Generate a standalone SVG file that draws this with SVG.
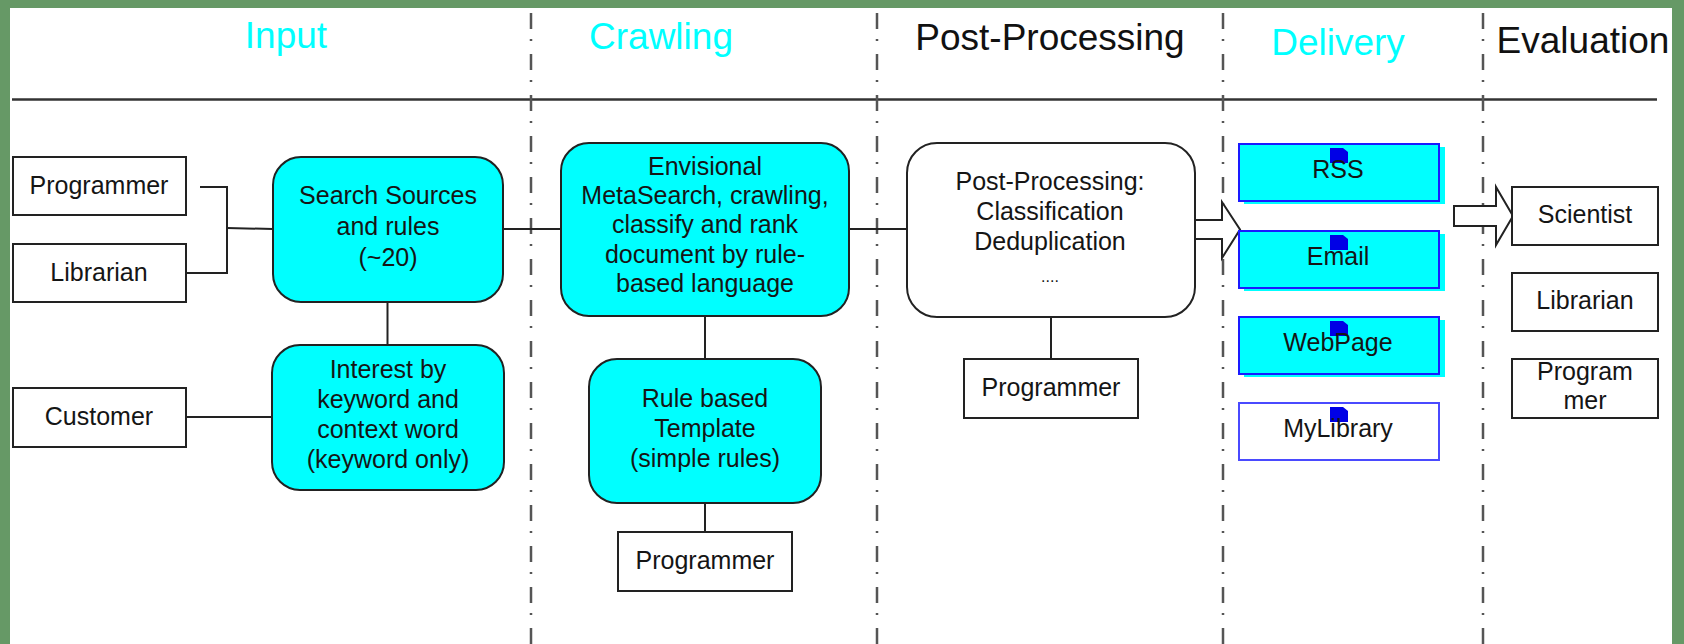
<svg xmlns="http://www.w3.org/2000/svg" width="1684" height="644" viewBox="0 0 1684 644">
<style>
text{font-family:"Liberation Sans",Arial,sans-serif;text-anchor:middle}
.hd{font-size:37px}
.t{font-size:25px;fill:#151515}
.box{fill:#fff;stroke:#222;stroke-width:2}
.rnd{fill:#00ffff;stroke:#222;stroke-width:2}
.ln{stroke:#222;stroke-width:2;fill:none}
.sep{stroke:#555;stroke-width:2.5;stroke-dasharray:16 10 2 13;fill:none}
.dv{fill:#00ffff;stroke:#1a1aff;stroke-width:2}
.sh{fill:#00ffff}
.sq{fill:#0000e6}
.arr{fill:#fff;stroke:#222;stroke-width:2}
</style>
<rect x="0" y="0" width="1684" height="644" fill="#669966"/>
<rect x="10" y="8" width="1662" height="636" fill="#fff"/>

<g id="lanes">
<line x1="12" y1="99.5" x2="1657" y2="99.5" stroke="#333" stroke-width="2.5"/>
<line class="sep" x1="531" y1="13" x2="531" y2="644"/>
<line class="sep" x1="877" y1="13" x2="877" y2="644"/>
<line class="sep" x1="1223" y1="13" x2="1223" y2="644"/>
<line class="sep" x1="1483" y1="13" x2="1483" y2="644"/>
<text class="hd" x="286" y="48" fill="#00ffff">Input</text>
<text class="hd" x="661" y="49" fill="#00ffff">Crawling</text>
<text class="hd" x="1050" y="50" fill="#111">Post-Processing</text>
<text class="hd" x="1338" y="55" fill="#00ffff">Delivery</text>
<text class="hd" x="1583" y="53" fill="#111">Evaluation</text>
</g>

<g id="connectors">
<polyline class="ln" points="200,187 227,187 227,273 186,273"/>
<line class="ln" x1="227" y1="228" x2="273" y2="229"/>
<line class="ln" x1="387.5" y1="302" x2="387.5" y2="345"/>
<line class="ln" x1="186" y1="417" x2="272" y2="417"/>
<line class="ln" x1="503" y1="229" x2="561" y2="229"/>
<line class="ln" x1="849" y1="229" x2="907" y2="229"/>
<line class="ln" x1="705" y1="316" x2="705" y2="359"/>
<line class="ln" x1="705" y1="503" x2="705" y2="532"/>
<line class="ln" x1="1051" y1="317" x2="1051" y2="359"/>
<polygon class="arr" points="1195,220 1222,220 1222,202 1240,229.5 1222,258 1222,239 1195,239"/>
<polygon class="arr" points="1454,206 1496,206 1496,187 1513,216 1496,245 1496,226 1454,226"/>
</g>

<g id="n-programmer1"><rect class="box" x="13" y="157" width="173" height="58"/><text class="t" x="99" y="194">Programmer</text></g>
<g id="n-librarian1"><rect class="box" x="13" y="244" width="173" height="58"/><text class="t" x="99" y="281">Librarian</text></g>
<g id="n-customer"><rect class="box" x="13" y="388" width="173" height="59"/><text class="t" x="99" y="425">Customer</text></g>

<g id="n-search"><rect class="rnd" x="273" y="157" width="230" height="145" rx="28"/>
<text class="t" x="388" y="204">Search Sources</text><text class="t" x="388" y="235">and rules</text><text class="t" x="388" y="266">(~20)</text></g>

<g id="n-interest"><rect class="rnd" x="272" y="345" width="232" height="145" rx="28"/>
<text class="t" x="388" y="378">Interest by</text><text class="t" x="388" y="408">keyword and</text><text class="t" x="388" y="438">context word</text><text class="t" x="388" y="468">(keyword only)</text></g>

<g id="n-envisional"><rect class="rnd" x="561" y="143" width="288" height="173" rx="28"/>
<text class="t" x="705" y="175">Envisional</text><text class="t" x="705" y="204">MetaSearch, crawling,</text><text class="t" x="705" y="233">classify and rank</text><text class="t" x="705" y="263">document by rule-</text><text class="t" x="705" y="292">based language</text></g>

<g id="n-rule"><rect class="rnd" x="589" y="359" width="232" height="144" rx="28"/>
<text class="t" x="705" y="407">Rule based</text><text class="t" x="705" y="437">Template</text><text class="t" x="705" y="467">(simple rules)</text></g>

<g id="n-programmer2"><rect class="box" x="618" y="532" width="174" height="59"/><text class="t" x="705" y="569">Programmer</text></g>

<g id="n-post"><rect class="box" x="907" y="143" width="288" height="174" rx="30"/>
<text class="t" x="1050" y="190" fill="#333">Post-Processing:</text><text class="t" x="1050" y="220" fill="#333">Classification</text><text class="t" x="1050" y="250" fill="#333">Deduplication</text><text class="t" x="1050" y="282" fill="#333" style="font-size:16px">....</text></g>

<g id="n-programmer3"><rect class="box" x="964" y="359" width="174" height="59"/><text class="t" x="1051" y="396">Programmer</text></g>

<g id="n-rss"><rect class="sh" x="1244" y="147" width="201" height="57"/><rect class="dv" x="1239" y="144" width="200" height="57"/><path class="sq" d="M1330,148h13l5,4v11h-18z"/><text class="t" x="1338" y="178">RSS</text></g>
<g id="n-email"><rect class="sh" x="1244" y="234" width="201" height="57"/><rect class="dv" x="1239" y="231" width="200" height="57"/><path class="sq" d="M1330,235h13l5,4v11h-18z"/><text class="t" x="1338" y="265">Email</text></g>
<g id="n-webpage"><rect class="sh" x="1244" y="320" width="201" height="57"/><rect class="dv" x="1239" y="317" width="200" height="57"/><path class="sq" d="M1330,321h13l5,4v11h-18z"/><text class="t" x="1338" y="351">WebPage</text></g>
<g id="n-mylibrary"><rect x="1239" y="403" width="200" height="57" fill="#fff" stroke="#4a4aff" stroke-width="2"/><path class="sq" d="M1330,407h13l5,4v11h-18z"/><text class="t" x="1338" y="437">MyLibrary</text></g>

<g id="n-scientist"><rect class="box" x="1512" y="187" width="146" height="58"/><text class="t" x="1585" y="223">Scientist</text></g>
<g id="n-librarian2"><rect class="box" x="1512" y="273" width="146" height="58"/><text class="t" x="1585" y="309">Librarian</text></g>
<g id="n-programmer4"><rect class="box" x="1512" y="359" width="146" height="59"/><text class="t" x="1585" y="380">Program</text><text class="t" x="1585" y="409">mer</text></g>
</svg>
